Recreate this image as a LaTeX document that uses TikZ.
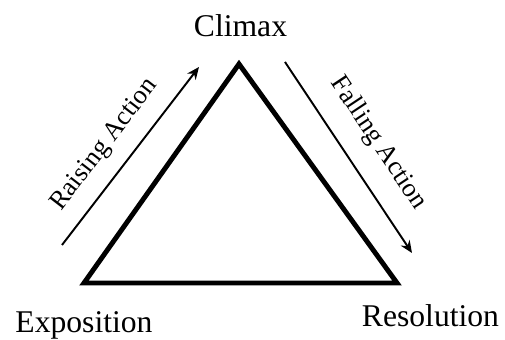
\documentclass[tikz,border=0pt]{standalone}
\usepackage{fontspec}
\setmainfont{Liberation Serif}
\usetikzlibrary{arrows.meta}
\tikzset{
  biglabel/.style={font=\fontsize{18}{20}\selectfont, inner sep=0pt, anchor=base},
  sidelabel/.style={font=\fontsize{15}{17}\selectfont, sloped},
  actionarrow/.style={line width=1.1pt, -{Stealth[length=7pt,width=6pt]}}
}
\begin{document}
\begin{tikzpicture}[x=0.02cm,y=0.02cm]
        \useasboundingbox (0,0) rectangle (505,340);
        \coordinate (expo) at (84,57);
        \coordinate (clim) at (239,276);
        \coordinate (reso) at (397,57);
        \draw [line width=2.8pt, line join=miter] (expo)--(clim)--(reso)--cycle;
        \coordinate (rise1) at (62,95);
        \coordinate (rise2) at (199,273);
        \coordinate (fall1) at (285,278);
        \coordinate (fall2) at (412,87);
        \draw [actionarrow] (rise1)-- node[sidelabel, pos=0.47, above=5pt]{Raising Action} (rise2);
        \draw [actionarrow] (fall1)-- node[sidelabel, pos=0.52, above=8pt]{Falling Action} (fall2);
        \node[biglabel] (climax) at (240.5,303) {Climax};
        \node[biglabel] (exposition) at (84,7) {Exposition};
        \node[biglabel] (resolution) at (430.5,13) {Resolution};
      \end{tikzpicture}
\end{document}
